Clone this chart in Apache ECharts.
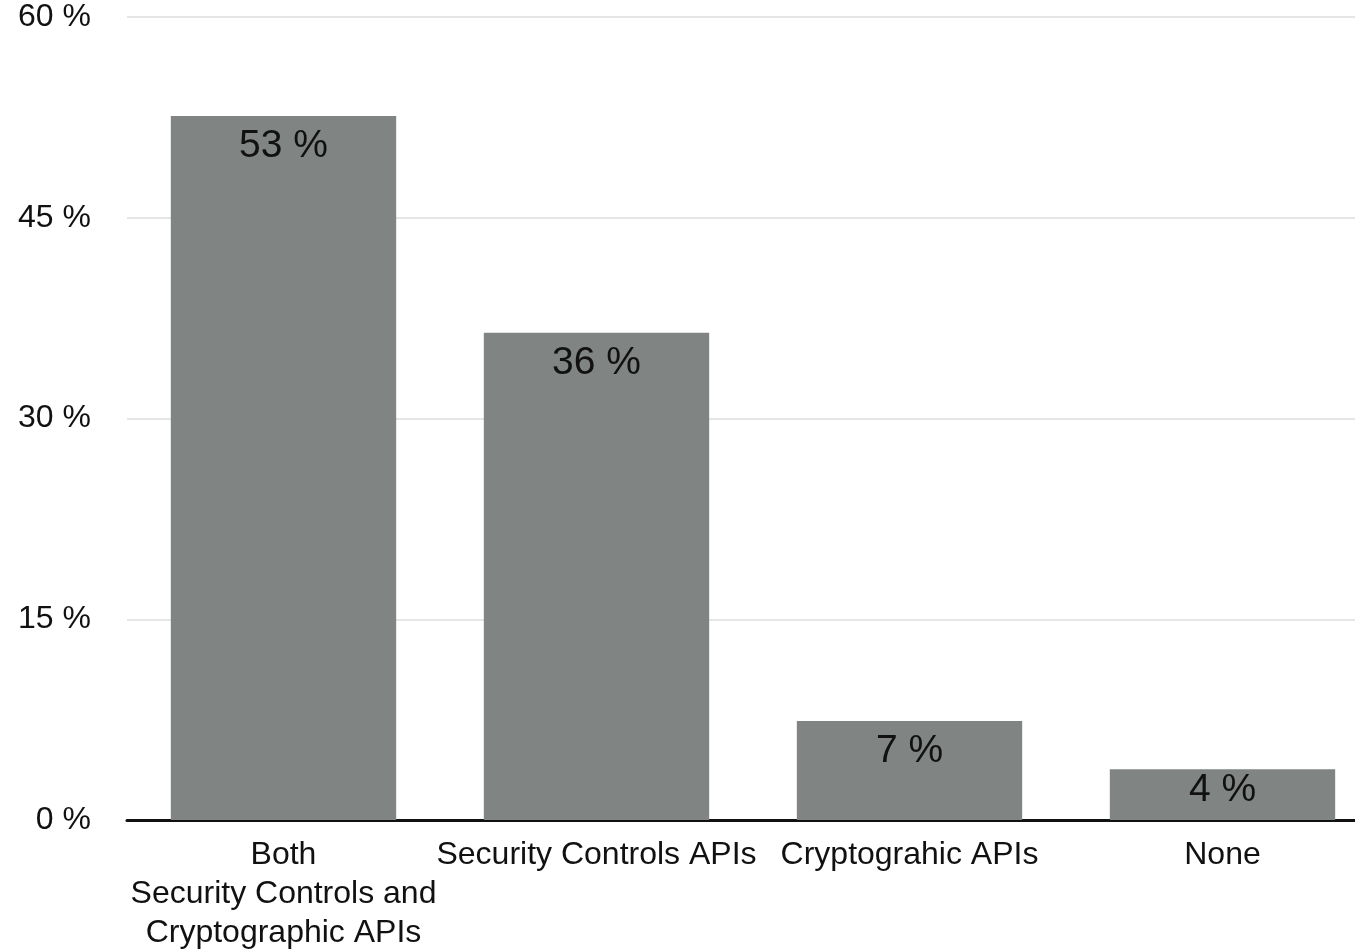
<!DOCTYPE html>
<html>
<head>
<meta charset="utf-8">
<script src="https://cdn.jsdelivr.net/npm/echarts@6/dist/echarts.min.js"></script>
<style>
  html, body { margin: 0; padding: 0; background: #fff; }
  #chart { width: 1355px; height: 951px; }
</style>
</head>
<body>
<div id="chart"></div>
<script>
const categories = [
  'Both\nSecurity Controls and\nCryptographic APIs',
  'Security Controls APIs',
  'Cryptograhic APIs',
  'None'
]
const shares = [52.6, 36.4, 7.4, 3.8]
const shareLabels = ['53 %', '36 %', '7 %', '4 %']
const yTicks = [0, 15, 30, 45, 60]

const FONT = 'Liberation Sans, Arial, Helvetica, sans-serif'

const chart = echarts.init(document.getElementById('chart'))

// the shortest bar squeezes its label up against the top edge
const barData = shares.map((v, i) =>
  i === shares.length - 1 ? { value: v, label: { distance: 2 } } : v
)

chart.setOption({
  backgroundColor: '#fff',
  animation: false,
  grid: { left: 127, top: 17, width: 1252, height: 803, outerBoundsMode: 'none', containLabel: false },
  xAxis: {
    type: 'category',
    data: categories,
    axisLine: { lineStyle: { color: '#111', width: 3 } },
    axisTick: { show: false },
    axisLabel: {
      interval: 0,
      color: '#111',
      fontSize: 32,
      fontFamily: FONT,
      lineHeight: 39,
      margin: 16
    }
  },
  yAxis: {
    type: 'value',
    min: yTicks[0],
    max: yTicks[yTicks.length - 1],
    interval: 15,
    axisLine: { show: false },
    axisTick: { show: false },
    axisLabel: {
      color: '#111',
      fontSize: 32,
      fontFamily: FONT,
      margin: 36,
      formatter: v => v + ' %'
    },
    splitLine: { lineStyle: { color: '#dcdcdc', width: 1.5 } }
  },
  series: [{
    type: 'bar',
    data: barData,
    barWidth: '72%',
    itemStyle: { color: '#808482' },
    label: {
      show: true,
      position: 'insideTop',
      distance: 11,
      color: '#111',
      fontSize: 39,
      fontFamily: FONT,
      formatter: p => shareLabels[p.dataIndex]
    }
  }]
})
</script>
</body>
</html>
